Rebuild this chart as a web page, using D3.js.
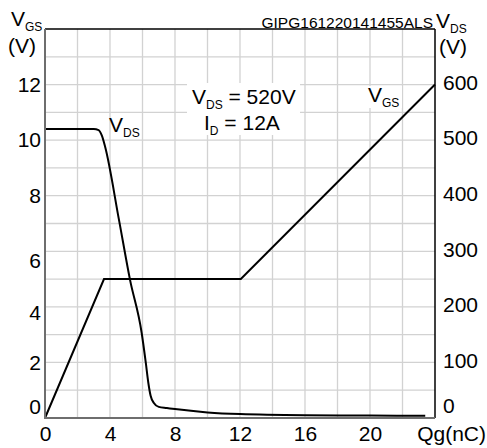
<!DOCTYPE html>
<html><head><meta charset="utf-8">
<script src="https://cdn.jsdelivr.net/npm/d3@7"></script>
<style>
html,body{margin:0;padding:0;background:#fff;}
svg{display:block;font-family:Arial,"Liberation Sans",sans-serif;}
</style></head>
<body><svg id="c" width="487" height="448"></svg>
<script>
// ---- data ----
const qgTicks = [0, 4, 8, 12, 16, 20];
const vgsTicks = [0, 2, 4, 6, 8, 10, 12];
const vdsTicks = [0, 100, 200, 300, 400, 500, 600];
const vgsCharge = [0, 3.63, 12.05, 24];
const vgsVolts  = [0, 5, 5, 12];
const vdsCharge = [0, 3.0, 3.3, 3.5, 3.7, 4.55, 5.23, 5.95, 6.2, 6.36, 6.5, 6.7, 7.0, 7.5, 8, 10, 12, 16, 20, 23.4];
const vdsVolts  = [520, 520, 518, 508, 488, 357, 249, 153, 100, 63, 40, 27, 20, 18, 16, 10, 7, 5, 4.5, 4];

const svg = d3.select("#c");
const L = 45, R = 435, T = 29, B = 418;
const x = d3.scaleLinear().domain([0, 24]).range([L, R]);
const yL = d3.scaleLinear().domain([0, 14]).range([B, T]);
const yR = d3.scaleLinear().domain([0, 700]).range([B, T]);

// grid
const g = svg.append("g");
g.selectAll("line.v").data(d3.range(2, 24, 2)).join("line")
  .attr("x1", d => x(d)).attr("x2", d => x(d)).attr("y1", T).attr("y2", B)
  .attr("stroke", "#d2d2d2").attr("stroke-width", 1.3);
g.selectAll("line.h").data(d3.range(1, 14, 1)).join("line")
  .attr("y1", d => yL(d)).attr("y2", d => yL(d)).attr("x1", L).attr("x2", R)
  .attr("stroke", "#d2d2d2").attr("stroke-width", 1.3);

// curves
svg.append("path")
  .datum(vgsCharge.map((q, i) => [q, yL(vgsVolts[i])]))
  .attr("d", d3.line().x(d => x(d[0])).y(d => d[1]))
  .attr("fill", "none").attr("stroke", "#000").attr("stroke-width", 2);
svg.append("path")
  .datum(vdsCharge.map((q, i) => [q, yR(vdsVolts[i])]))
  .attr("d", d3.line().x(d => x(d[0])).y(d => d[1]).curve(d3.curveMonotoneX))
  .attr("fill", "none").attr("stroke", "#000").attr("stroke-width", 2);

// borders
svg.append("line").attr("x1", L).attr("x2", R).attr("y1", T).attr("y2", T).attr("stroke", "#000").attr("stroke-width", 1.5);
svg.append("line").attr("x1", R).attr("x2", R).attr("y1", T).attr("y2", B).attr("stroke", "#000").attr("stroke-width", 1.5);
svg.append("line").attr("x1", L).attr("x2", L).attr("y1", T).attr("y2", B + 1).attr("stroke", "#6e6e6e").attr("stroke-width", 2);
svg.append("line").attr("x1", L - 1).attr("x2", R).attr("y1", B).attr("y2", B).attr("stroke", "#6e6e6e").attr("stroke-width", 2);

const FS = 21;
const FF = "Arial,'Liberation Sans',sans-serif";
// axes
const ax = svg.append("g").attr("transform", `translate(0,${B})`)
  .call(d3.axisBottom(x).tickValues(qgTicks).tickSize(0).tickPadding(8).tickFormat(d3.format("d")));
ax.select(".domain").remove();
ax.selectAll("text").attr("font-size", FS).attr("font-family", FF).attr("fill", "#000");

const leftNudge = {0: -11, 6: 9, 4: 6};
const ayl = svg.append("g").attr("transform", `translate(${L},0)`)
  .call(d3.axisLeft(yL).tickValues(vgsTicks).tickSize(0).tickPadding(4).tickFormat(d3.format("d")));
ayl.select(".domain").remove();
ayl.selectAll("text").attr("font-size", FS).attr("font-family", FF).attr("fill", "#000")
  .attr("y", d => leftNudge[d] || 0);

const ayr = svg.append("g").attr("transform", `translate(${R},0)`)
  .call(d3.axisRight(yR).tickValues(vdsTicks).tickSize(0).tickPadding(8).tickFormat(d3.format("d")));
ayr.select(".domain").remove();
ayr.selectAll("text").attr("font-size", FS).attr("font-family", FF).attr("fill", "#000")
  .attr("y", d => d === 0 ? -12 : -2);

// helper for subscript text
function sub(xp, yp, main, s, rest, size, ssize) {
  const t = svg.append("text").attr("x", xp).attr("y", yp).attr("font-size", size).attr("fill", "#000");
  t.append("tspan").text(main);
  t.append("tspan").attr("font-size", ssize).attr("dy", 5).text(s);
  if (rest) t.append("tspan").attr("dy", -5).text(rest);
  return t;
}

// axis titles
sub(11, 26, "V", "GS", null, FS, 12);
svg.append("text").attr("x", 8).attr("y", 53).attr("font-size", FS).text("(V)");
sub(436, 28, "V", "DS", null, FS, 12);
svg.append("text").attr("x", 439).attr("y", 54).attr("font-size", FS).text("(V)");
svg.append("text").attr("x", 486).attr("y", 441).attr("text-anchor", "end").attr("font-size", FS).text("Qg(nC)");
svg.append("text").attr("x", 433).attr("y", 28).attr("text-anchor", "end").attr("font-size", 15.5).text("GIPG161220141455ALS");

// annotation box
svg.append("rect").attr("x", 187).attr("y", 83).attr("width", 113).attr("height", 52).attr("fill", "#fff");
sub(192, 104, "V", "DS", " = 520V", FS, 12);
sub(204, 130, "I", "D", " = 12A", FS, 12);

// curve labels
svg.append("rect").attr("x", 366).attr("y", 86).attr("width", 36).attr("height", 22).attr("fill", "#fff");
sub(368, 102, "V", "GS", null, FS, 12);
sub(109, 132, "V", "DS", null, FS, 12);
</script></body></html>
